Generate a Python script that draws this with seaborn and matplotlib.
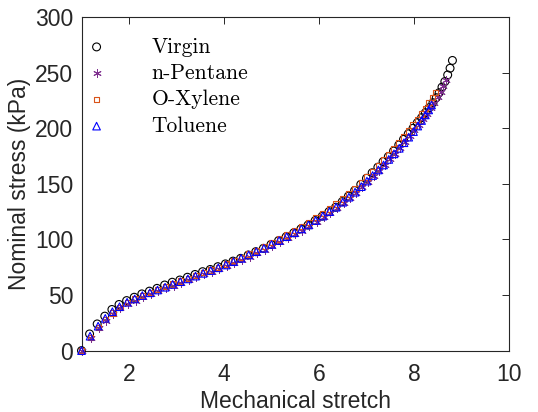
import matplotlib
matplotlib.use("Agg")
import matplotlib.pyplot as plt
import seaborn as sns
import pandas as pd
from matplotlib.font_manager import FontProperties

# ---------------- data ----------------
virgin_x = [1.00, 1.17, 1.33, 1.49, 1.64, 1.79, 1.95, 2.11, 2.27, 2.43, 2.59, 2.75, 2.91, 3.07,
            3.23, 3.39, 3.55, 3.71, 3.87, 4.03, 4.19, 4.35, 4.51, 4.67, 4.83, 4.99, 5.15, 5.31,
            5.47, 5.62, 5.77, 5.92, 6.07, 6.21, 6.35, 6.49, 6.62, 6.75, 6.88, 7.00, 7.12, 7.24,
            7.35, 7.46, 7.57, 7.68, 7.78, 7.88, 7.98, 8.07, 8.16, 8.24, 8.32, 8.40, 8.47, 8.53,
            8.59, 8.65, 8.71, 8.76, 8.81]
virgin_y = [0, 15, 24, 31, 37, 41.5, 45, 48, 51, 53.5, 56, 59, 61.5, 63.5,
            66, 68.5, 71, 73, 75.5, 78, 80.5, 83, 86, 89, 92, 95.5, 99, 102.5,
            106, 109.5, 113, 117, 121, 125, 129, 134, 139, 144, 149.5, 155, 160, 165,
            170, 174.5, 179.5, 185, 190, 195, 200, 205, 209.5, 214, 218.5, 223, 227.5, 232,
            237, 242, 248, 254, 261]

pentane_x = [1.00, 1.20, 1.37, 1.52, 1.67, 1.82, 1.98, 2.14, 2.30, 2.46, 2.62, 2.78, 2.94, 3.10,
             3.26, 3.42, 3.58, 3.74, 3.90, 4.06, 4.22, 4.38, 4.54, 4.70, 4.86, 5.02, 5.18, 5.34,
             5.50, 5.65, 5.80, 5.95, 6.10, 6.24, 6.38, 6.52, 6.65, 6.78, 6.91, 7.03, 7.15, 7.27,
             7.38, 7.49, 7.60, 7.71, 7.81, 7.91, 8.01, 8.10, 8.19, 8.27, 8.35, 8.43, 8.50, 8.56,
             8.62, 8.67]
pentane_y = [0, 11, 20, 27, 33, 38, 42, 45, 48, 51, 53.5, 56, 58.5, 61,
             63.5, 66, 68.5, 71, 73.5, 76, 78.5, 81.5, 84.5, 87.5, 90.5, 94, 97.5, 101,
             104.5, 108, 112, 116, 120, 124, 128, 132.5, 137, 142, 147, 152, 157, 162,
             167, 172, 177, 182.5, 188, 193, 198, 203, 208, 213, 218, 223, 228, 233,
             238, 243]

xylene_x = [1.00, 1.19, 1.36, 1.51, 1.66, 1.81, 1.97, 2.13, 2.29, 2.45, 2.61, 2.77, 2.93, 3.09,
            3.25, 3.41, 3.57, 3.73, 3.89, 4.05, 4.21, 4.37, 4.53, 4.69, 4.85, 5.01, 5.17, 5.33,
            5.49, 5.64, 5.79, 5.94, 6.08, 6.22, 6.36, 6.50, 6.63, 6.76, 6.89, 7.01, 7.13, 7.25,
            7.36, 7.47, 7.58, 7.68, 7.78, 7.88, 7.98, 8.07, 8.16, 8.24, 8.32, 8.39, 8.45]
xylene_y = [0, 12, 21, 28, 34, 39, 43, 46.5, 49.5, 52, 55, 57.5, 60, 62.5,
            65, 67.5, 70, 72.5, 75, 78, 81, 84, 87, 90, 93.5, 97, 100.5, 104,
            108, 111.5, 115.5, 119.5, 123.5, 127.5, 132, 136.5, 141, 146, 151, 156, 161, 166.5,
            171.5, 176.5, 182, 187, 192, 197.5, 203, 208, 213, 218, 223, 227.5, 232]

toluene_x = [1.00, 1.18, 1.35, 1.50, 1.65, 1.80, 1.96, 2.12, 2.28, 2.44, 2.60, 2.76, 2.92, 3.08,
             3.24, 3.40, 3.56, 3.72, 3.88, 4.04, 4.20, 4.36, 4.52, 4.68, 4.84, 5.00, 5.16, 5.32,
             5.48, 5.63, 5.78, 5.93, 6.08, 6.22, 6.36, 6.50, 6.63, 6.76, 6.89, 7.01, 7.13, 7.25,
             7.36, 7.47, 7.58, 7.69, 7.79, 7.89, 7.99, 8.08, 8.16, 8.24, 8.31, 8.37]
toluene_y = [0, 13, 22, 29, 35, 39.5, 43.5, 46.5, 49.5, 52, 54.5, 57, 59.5, 62,
             64.5, 67, 69.5, 72, 74.5, 77, 80, 83, 86, 89, 92, 95.5, 99, 102.5,
             106, 109.5, 113, 117, 121, 125, 129, 133.5, 138, 142.5, 147.5, 152.5, 157.5, 162.5,
             167, 172, 177, 182, 187, 192, 197, 202, 207, 212, 216.5, 221]

series_names = ["Virgin", "n-Pentane", "O-Xylene", "Toluene"]
x_ticks = [2, 4, 6, 8, 10]
y_ticks = [0, 50, 100, 150, 200, 250, 300]

# ---------------- style ----------------
sns.set_style("white")
plt.rcParams["font.family"] = ["Liberation Sans", "DejaVu Sans"]
axis_col = "#262626"

fig = plt.figure(figsize=(5.38, 4.12), dpi=100)
ax = fig.add_axes([0.1515, 0.149, 0.7945, 0.8095])

data = [
    (virgin_x, virgin_y, "o", "#000000", 32),
    (pentane_x, pentane_y, (6, 2, 0), "#7E2F8E", 30),
    (xylene_x, xylene_y, "s", "#D95319", 15),
    (toluene_x, toluene_y, "^", "#0000FF", 30),
]
for name, (xs, ys, mk, col, sz) in zip(series_names, data):
    df = pd.DataFrame({"x": xs, "y": ys})
    if mk == (6, 2, 0):
        sns.scatterplot(data=df, x="x", y="y", marker=mk, s=sz, color=col,
                        edgecolor=col, linewidth=0.7, ax=ax, label=name,
                        clip_on=False, zorder=3)
    else:
        sns.scatterplot(data=df, x="x", y="y", marker=mk, s=sz, facecolor="none",
                        edgecolor=col, linewidth=0.8, ax=ax, label=name,
                        clip_on=False, zorder=3)

ax.set_xlim(1, 10)
ax.set_ylim(0, 300)
ax.set_xticks(x_ticks)
ax.set_yticks(y_ticks)
ax.set_xlabel("Mechanical stretch", fontsize=16.5, color=axis_col, labelpad=3)
ax.set_ylabel("Nominal stress (kPa)", fontsize=16.5, color=axis_col, labelpad=3)
ax.tick_params(direction="in", length=5, width=0.7, colors=axis_col, labelsize=16.5,
               top=True, right=True)
ax.tick_params(axis="x", pad=9)
ax.tick_params(axis="y", pad=6)
for sp in ax.spines.values():
    sp.set_visible(True)
    sp.set_color(axis_col)
    sp.set_linewidth(0.8)

leg = ax.legend(loc="upper left", frameon=False,
                prop=FontProperties(family="cmr10", size=15.5),
                bbox_to_anchor=(0.0, 0.966), borderaxespad=0.0, borderpad=0.4,
                handletextpad=2.25, labelspacing=0.32, markerscale=1.0,
                handlelength=0.6)
for t in leg.get_texts():
    t.set_color("#000000")

fig.savefig("out.png", dpi=100)
